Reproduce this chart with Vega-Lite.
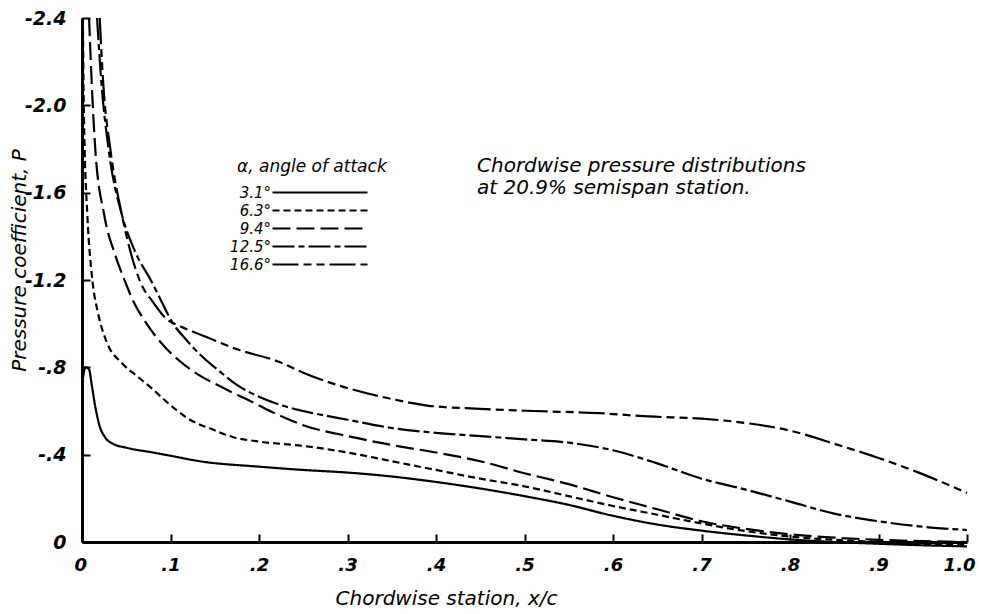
{
  "$schema": "https://vega.github.io/schema/vega-lite/v6.json",
  "width": 885,
  "height": 524,
  "autosize": {"type": "none"},
  "padding": {"left": 82, "top": 18, "right": 14, "bottom": 72},
  "background": "white",
  "config": {"view": {"stroke": null}, "font": "DejaVu Sans"},
  "title": {
    "text": ["Chordwise pressure distributions", "at 20.9% semispan station."],
    "anchor": "start",
    "frame": "group",
    "orient": "top",
    "baseline": "top",
    "offset": 0,
    "dx": 395,
    "dy": 189,
    "lineHeight": 22,
    "font": "DejaVu Sans",
    "fontSize": 20,
    "fontStyle": "italic",
    "fontWeight": "normal",
    "color": "black"
  },
  "data": {
    "values": [
      {"alpha": "3.1°", "x": 0.0, "P": -0.72},
      {"alpha": "3.1°", "x": 0.004, "P": -0.8},
      {"alpha": "3.1°", "x": 0.008, "P": -0.79},
      {"alpha": "3.1°", "x": 0.011, "P": -0.72},
      {"alpha": "3.1°", "x": 0.015, "P": -0.62},
      {"alpha": "3.1°", "x": 0.02, "P": -0.53},
      {"alpha": "3.1°", "x": 0.026, "P": -0.48},
      {"alpha": "3.1°", "x": 0.035, "P": -0.45},
      {"alpha": "3.1°", "x": 0.05, "P": -0.432},
      {"alpha": "3.1°", "x": 0.08, "P": -0.41},
      {"alpha": "3.1°", "x": 0.1, "P": -0.395},
      {"alpha": "3.1°", "x": 0.133, "P": -0.37},
      {"alpha": "3.1°", "x": 0.2, "P": -0.345},
      {"alpha": "3.1°", "x": 0.25, "P": -0.33},
      {"alpha": "3.1°", "x": 0.3, "P": -0.318},
      {"alpha": "3.1°", "x": 0.35, "P": -0.3},
      {"alpha": "3.1°", "x": 0.4, "P": -0.275},
      {"alpha": "3.1°", "x": 0.45, "P": -0.245},
      {"alpha": "3.1°", "x": 0.5, "P": -0.21},
      {"alpha": "3.1°", "x": 0.55, "P": -0.17},
      {"alpha": "3.1°", "x": 0.6, "P": -0.12},
      {"alpha": "3.1°", "x": 0.65, "P": -0.08},
      {"alpha": "3.1°", "x": 0.7, "P": -0.052},
      {"alpha": "3.1°", "x": 0.75, "P": -0.03},
      {"alpha": "3.1°", "x": 0.8, "P": -0.012},
      {"alpha": "3.1°", "x": 0.85, "P": 0.0},
      {"alpha": "3.1°", "x": 0.9, "P": 0.008},
      {"alpha": "3.1°", "x": 0.95, "P": 0.015},
      {"alpha": "3.1°", "x": 1.0, "P": 0.02},

      {"alpha": "6.3°", "x": 0.001, "P": -2.4},
      {"alpha": "6.3°", "x": 0.002, "P": -2.0},
      {"alpha": "6.3°", "x": 0.003, "P": -1.8},
      {"alpha": "6.3°", "x": 0.006, "P": -1.5},
      {"alpha": "6.3°", "x": 0.012, "P": -1.19},
      {"alpha": "6.3°", "x": 0.018, "P": -1.05},
      {"alpha": "6.3°", "x": 0.028, "P": -0.915},
      {"alpha": "6.3°", "x": 0.045, "P": -0.82},
      {"alpha": "6.3°", "x": 0.062, "P": -0.76},
      {"alpha": "6.3°", "x": 0.08, "P": -0.7},
      {"alpha": "6.3°", "x": 0.092, "P": -0.655},
      {"alpha": "6.3°", "x": 0.122, "P": -0.56},
      {"alpha": "6.3°", "x": 0.148, "P": -0.515},
      {"alpha": "6.3°", "x": 0.171, "P": -0.48},
      {"alpha": "6.3°", "x": 0.2, "P": -0.46},
      {"alpha": "6.3°", "x": 0.25, "P": -0.44},
      {"alpha": "6.3°", "x": 0.3, "P": -0.41},
      {"alpha": "6.3°", "x": 0.35, "P": -0.37},
      {"alpha": "6.3°", "x": 0.4, "P": -0.33},
      {"alpha": "6.3°", "x": 0.45, "P": -0.29},
      {"alpha": "6.3°", "x": 0.5, "P": -0.255},
      {"alpha": "6.3°", "x": 0.55, "P": -0.21},
      {"alpha": "6.3°", "x": 0.6, "P": -0.165},
      {"alpha": "6.3°", "x": 0.65, "P": -0.125},
      {"alpha": "6.3°", "x": 0.7, "P": -0.085},
      {"alpha": "6.3°", "x": 0.75, "P": -0.05},
      {"alpha": "6.3°", "x": 0.8, "P": -0.025},
      {"alpha": "6.3°", "x": 0.85, "P": -0.01},
      {"alpha": "6.3°", "x": 0.9, "P": 0.0},
      {"alpha": "6.3°", "x": 0.95, "P": 0.008},
      {"alpha": "6.3°", "x": 1.0, "P": 0.012},

      {"alpha": "9.4°", "x": 0.008, "P": -2.4},
      {"alpha": "9.4°", "x": 0.011, "P": -2.1},
      {"alpha": "9.4°", "x": 0.015, "P": -1.8},
      {"alpha": "9.4°", "x": 0.025, "P": -1.5},
      {"alpha": "9.4°", "x": 0.037, "P": -1.32},
      {"alpha": "9.4°", "x": 0.049, "P": -1.19},
      {"alpha": "9.4°", "x": 0.056, "P": -1.12},
      {"alpha": "9.4°", "x": 0.073, "P": -1.0},
      {"alpha": "9.4°", "x": 0.096, "P": -0.883},
      {"alpha": "9.4°", "x": 0.11, "P": -0.83},
      {"alpha": "9.4°", "x": 0.13, "P": -0.77},
      {"alpha": "9.4°", "x": 0.156, "P": -0.713},
      {"alpha": "9.4°", "x": 0.193, "P": -0.64},
      {"alpha": "9.4°", "x": 0.224, "P": -0.578},
      {"alpha": "9.4°", "x": 0.25, "P": -0.535},
      {"alpha": "9.4°", "x": 0.3, "P": -0.485},
      {"alpha": "9.4°", "x": 0.36, "P": -0.437},
      {"alpha": "9.4°", "x": 0.4, "P": -0.41},
      {"alpha": "9.4°", "x": 0.45, "P": -0.37},
      {"alpha": "9.4°", "x": 0.5, "P": -0.315},
      {"alpha": "9.4°", "x": 0.55, "P": -0.265},
      {"alpha": "9.4°", "x": 0.6, "P": -0.205},
      {"alpha": "9.4°", "x": 0.65, "P": -0.15},
      {"alpha": "9.4°", "x": 0.7, "P": -0.095},
      {"alpha": "9.4°", "x": 0.75, "P": -0.06},
      {"alpha": "9.4°", "x": 0.8, "P": -0.035},
      {"alpha": "9.4°", "x": 0.85, "P": -0.02},
      {"alpha": "9.4°", "x": 0.9, "P": -0.01},
      {"alpha": "9.4°", "x": 0.95, "P": -0.004},
      {"alpha": "9.4°", "x": 1.0, "P": 0.0},

      {"alpha": "12.5°", "x": 0.017, "P": -2.4},
      {"alpha": "12.5°", "x": 0.022, "P": -2.1},
      {"alpha": "12.5°", "x": 0.03, "P": -1.8},
      {"alpha": "12.5°", "x": 0.045, "P": -1.5},
      {"alpha": "12.5°", "x": 0.06, "P": -1.33},
      {"alpha": "12.5°", "x": 0.079, "P": -1.19},
      {"alpha": "12.5°", "x": 0.09, "P": -1.1},
      {"alpha": "12.5°", "x": 0.103, "P": -1.0},
      {"alpha": "12.5°", "x": 0.118, "P": -0.925},
      {"alpha": "12.5°", "x": 0.133, "P": -0.86},
      {"alpha": "12.5°", "x": 0.156, "P": -0.78},
      {"alpha": "12.5°", "x": 0.175, "P": -0.72},
      {"alpha": "12.5°", "x": 0.2, "P": -0.665},
      {"alpha": "12.5°", "x": 0.224, "P": -0.628},
      {"alpha": "12.5°", "x": 0.25, "P": -0.6},
      {"alpha": "12.5°", "x": 0.3, "P": -0.56},
      {"alpha": "12.5°", "x": 0.35, "P": -0.522},
      {"alpha": "12.5°", "x": 0.4, "P": -0.5},
      {"alpha": "12.5°", "x": 0.45, "P": -0.485},
      {"alpha": "12.5°", "x": 0.5, "P": -0.47},
      {"alpha": "12.5°", "x": 0.55, "P": -0.455},
      {"alpha": "12.5°", "x": 0.6, "P": -0.42},
      {"alpha": "12.5°", "x": 0.65, "P": -0.36},
      {"alpha": "12.5°", "x": 0.7, "P": -0.29},
      {"alpha": "12.5°", "x": 0.75, "P": -0.24},
      {"alpha": "12.5°", "x": 0.8, "P": -0.185},
      {"alpha": "12.5°", "x": 0.85, "P": -0.13},
      {"alpha": "12.5°", "x": 0.9, "P": -0.095},
      {"alpha": "12.5°", "x": 0.95, "P": -0.07},
      {"alpha": "12.5°", "x": 1.0, "P": -0.055},

      {"alpha": "16.6°", "x": 0.02, "P": -2.4},
      {"alpha": "16.6°", "x": 0.024, "P": -2.1},
      {"alpha": "16.6°", "x": 0.032, "P": -1.8},
      {"alpha": "16.6°", "x": 0.045, "P": -1.5},
      {"alpha": "16.6°", "x": 0.066, "P": -1.19},
      {"alpha": "16.6°", "x": 0.08, "P": -1.1},
      {"alpha": "16.6°", "x": 0.096, "P": -1.02},
      {"alpha": "16.6°", "x": 0.11, "P": -0.99},
      {"alpha": "16.6°", "x": 0.14, "P": -0.94},
      {"alpha": "16.6°", "x": 0.175, "P": -0.883},
      {"alpha": "16.6°", "x": 0.224, "P": -0.823},
      {"alpha": "16.6°", "x": 0.25, "P": -0.775},
      {"alpha": "16.6°", "x": 0.3, "P": -0.705},
      {"alpha": "16.6°", "x": 0.35, "P": -0.655},
      {"alpha": "16.6°", "x": 0.39, "P": -0.625},
      {"alpha": "16.6°", "x": 0.45, "P": -0.61},
      {"alpha": "16.6°", "x": 0.51, "P": -0.6},
      {"alpha": "16.6°", "x": 0.585, "P": -0.59},
      {"alpha": "16.6°", "x": 0.64, "P": -0.575},
      {"alpha": "16.6°", "x": 0.7, "P": -0.565},
      {"alpha": "16.6°", "x": 0.75, "P": -0.545},
      {"alpha": "16.6°", "x": 0.8, "P": -0.51},
      {"alpha": "16.6°", "x": 0.85, "P": -0.45},
      {"alpha": "16.6°", "x": 0.9, "P": -0.385},
      {"alpha": "16.6°", "x": 0.944, "P": -0.32},
      {"alpha": "16.6°", "x": 1.0, "P": -0.225}
    ]
  },
  "mark": {"type": "line", "interpolate": "monotone", "strokeWidth": 2.2, "color": "black", "strokeCap": "butt"},
  "encoding": {
    "x": {
      "field": "x",
      "type": "quantitative",
      "scale": {"domain": [0, 1], "nice": false, "zero": false},
      "axis": {
        "values": [0, 0.1, 0.2, 0.3, 0.4, 0.5, 0.6, 0.7, 0.8, 0.9, 1.0],
        "labelExpr": "datum.value == 0 ? '0' : datum.value >= 1 ? '1.0' : replace(format(datum.value, '.1f'), '0.', '.')",
        "grid": false,
        "domainColor": "black",
        "domainWidth": 3,
        "tickColor": "black",
        "tickWidth": 2,
        "tickSize": -8,
        "labelPadding": 22,
        "labelFont": "DejaVu Sans",
        "labelFontSize": 18,
        "labelFontStyle": "italic",
        "labelFontWeight": "bold",
        "labelColor": "black",
        "labelFlush": true,
        "labelFlushOffset": 8,
        "title": "Chordwise station, x/c",
        "titleFont": "DejaVu Sans",
        "titleFontSize": 20,
        "titleFontStyle": "italic",
        "titleFontWeight": "normal",
        "titleColor": "black",
        "titleX": 364,
        "titleY": 62,
        "titleBaseline": "alphabetic"
      }
    },
    "y": {
      "field": "P",
      "type": "quantitative",
      "scale": {"domain": [-2.4, 0], "reverse": true, "nice": false, "zero": false},
      "axis": {
        "values": [-2.4, -2.0, -1.6, -1.2, -0.8, -0.4, 0],
        "labelExpr": "datum.value == 0 ? '0' : datum.value > -1 ? '-' + replace(format(-datum.value, '.1f'), '0.', '.') : '-' + format(-datum.value, '.1f')",
        "grid": false,
        "domainColor": "black",
        "domainWidth": 3,
        "tickColor": "black",
        "tickWidth": 2,
        "tickSize": -8,
        "labelPadding": 24,
        "labelFont": "DejaVu Sans",
        "labelFontSize": 19,
        "labelFontStyle": "italic",
        "labelFontWeight": "bold",
        "labelColor": "black",
        "labelFlush": false,
        "title": "Pressure coefficient, P",
        "titleFont": "DejaVu Sans",
        "titleFontSize": 20,
        "titleFontStyle": "italic",
        "titleFontWeight": "normal",
        "titleColor": "black",
        "titleX": -63,
        "titleY": 242,
        "titleAngle": -90,
        "titleBaseline": "middle",
        "titleAlign": "center"
      }
    },
    "strokeDash": {
      "field": "alpha",
      "type": "nominal",
      "scale": {
        "domain": ["3.1°", "6.3°", "9.4°", "12.5°", "16.6°"],
        "range": [[1, 0], [7, 4], [18, 6], [22, 4, 6, 4], [26, 5, 8, 5, 8, 5]]
      },
      "legend": {
        "title": "α, angle of attack",
        "orient": "none",
        "legendX": 155,
        "legendY": 141,
        "symbolType": "M-8,0H8",
        "symbolSize": 141,
        "symbolStrokeWidth": 2,
        "symbolStrokeColor": "black",
        "symbolFillColor": "transparent",
        "symbolOffset": 75.5,
        "rowPadding": 2,
        "labelAlign": "right",
        "labelOffset": -56.5,
        "labelFont": "DejaVu Sans",
        "labelFontSize": 15,
        "labelFontStyle": "italic",
        "labelColor": "black",
        "titleFont": "DejaVu Sans",
        "titleFontSize": 17,
        "titleFontStyle": "italic",
        "titleFontWeight": "normal",
        "titleColor": "black",
        "titlePadding": 9
      }
    }
  }
}
